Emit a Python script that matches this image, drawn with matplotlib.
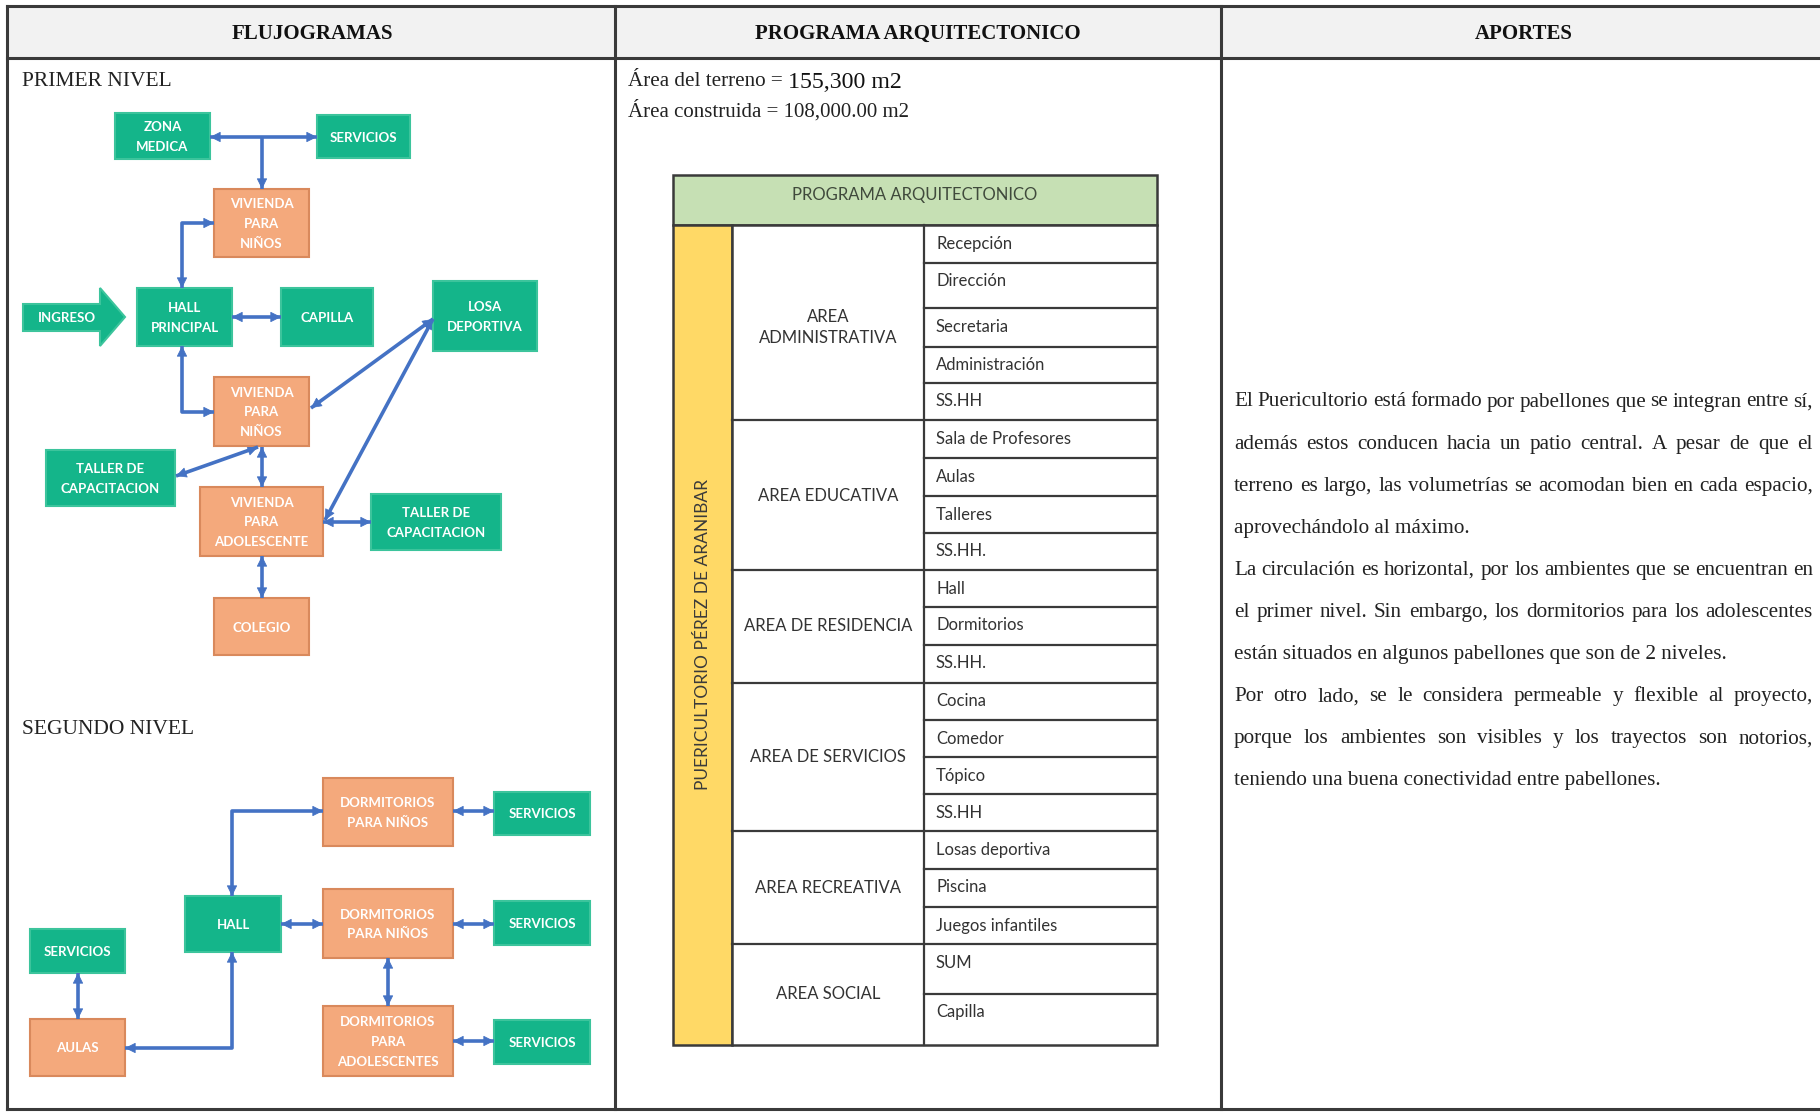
import matplotlib
matplotlib.use("Agg")
import matplotlib.pyplot as plt
from matplotlib.patches import Rectangle, Polygon, FancyArrowPatch
import numpy as np

# ---------------- data ----------------
encabezados = ["FLUJOGRAMAS", "PROGRAMA ARQUITECTONICO", "APORTES"]

nivel1_nombres = ["ZONA\nMEDICA", "SERVICIOS", "VIVIENDA\nPARA\nNIÑOS", "HALL\nPRINCIPAL",
                  "CAPILLA", "LOSA\nDEPORTIVA", "VIVIENDA\nPARA\nNIÑOS", "TALLER DE\nCAPACITACION",
                  "VIVIENDA\nPARA\nADOLESCENTE", "TALLER DE\nCAPACITACION", "COLEGIO"]
nivel1_tipo = ["v", "v", "n", "v", "v", "v", "n", "v", "n", "v", "n"]

nivel2_nombres = ["DORMITORIOS\nPARA NIÑOS", "SERVICIOS", "HALL", "DORMITORIOS\nPARA NIÑOS",
                  "SERVICIOS", "SERVICIOS", "AULAS", "DORMITORIOS\nPARA\nADOLESCENTES", "SERVICIOS"]
nivel2_tipo = ["n", "v", "v", "n", "v", "v", "n", "n", "v"]

areas = ["Área del terreno = ", "155,300 m2", "Área construida = 108,000.00 m2"]

programa_titulo = "PROGRAMA ARQUITECTONICO"
programa_lateral = "PUERICULTORIO PÉREZ DE ARANIBAR"
zonas = ["AREA\nADMINISTRATIVA", "AREA EDUCATIVA", "AREA DE RESIDENCIA",
         "AREA DE SERVICIOS", "AREA RECREATIVA", "AREA SOCIAL"]
ambientes = [["Recepción", "Dirección", "Secretaria", "Administración", "SS.HH"],
             ["Sala de Profesores", "Aulas", "Talleres", "SS.HH."],
             ["Hall", "Dormitorios", "SS.HH."],
             ["Cocina", "Comedor", "Tópico", "SS.HH"],
             ["Losas deportiva", "Piscina", "Juegos infantiles"],
             ["SUM", "Capilla"]]

aportes = [
    ["El Puericultorio está formado por pabellones que se integran entre sí,",
     "además estos conducen hacia un patio central. A pesar de que el",
     "terreno es largo, las volumetrías se acomodan bien en cada espacio,",
     "aprovechándolo al máximo."],
    ["La circulación es horizontal, por los ambientes que se encuentran en",
     "el primer nivel. Sin embargo, los dormitorios para los adolescentes",
     "están situados en algunos pabellones que son de 2 niveles."],
    ["Por otro lado, se le considera permeable y flexible al proyecto,",
     "porque los ambientes son visibles y los trayectos son notorios,",
     "teniendo una buena conectividad entre pabellones."],
]

# ---------------- layout (pixels) ----------------
nivel1_cajas = [(115, 113, 210, 159), (317, 115, 410, 158), (214, 189, 309, 257),
                (137, 288, 232, 346), (281, 288, 373, 346), (433, 281, 537, 351),
                (214, 377, 309, 446), (46, 450, 175, 506), (200, 487, 323, 556),
                (371, 494, 501, 550), (214, 598, 309, 655)]
nivel1_flechas = [
    ([(210, 137), (317, 137)], True, True),
    ([(262, 137), (262, 189)], False, True),
    ([(182, 288), (182, 223), (214, 223)], True, True),
    ([(232, 317), (281, 317)], True, True),
    ([(182, 346), (182, 412), (214, 412)], True, True),
    ([(433, 319), (311, 408)], True, True),
    ([(433, 319), (325, 520)], True, True),
    ([(176, 476), (258, 447)], True, True),
    ([(262, 447), (262, 487)], True, True),
    ([(323, 522), (371, 522)], True, True),
    ([(262, 556), (262, 598)], True, True),
]
nivel2_cajas = [(323, 778, 453, 846), (494, 792, 590, 835), (185, 896, 281, 952),
                (323, 889, 453, 958), (494, 901, 590, 945), (30, 929, 125, 973),
                (30, 1019, 125, 1076), (323, 1006, 453, 1076), (494, 1020, 590, 1064)]
nivel2_flechas = [
    ([(232, 896), (232, 811), (323, 811)], True, True),
    ([(281, 924), (323, 924)], True, True),
    ([(453, 811), (494, 811)], True, True),
    ([(453, 924), (494, 924)], True, True),
    ([(388, 958), (388, 1006)], True, True),
    ([(453, 1041), (494, 1041)], True, True),
    ([(78, 973), (78, 1019)], True, True),
    ([(125, 1048), (232, 1048), (232, 952)], True, True),
]
filas_y = [225, 263, 308, 347, 383, 420, 458, 496, 533, 570, 607, 645, 683, 720,
           757, 794, 831, 869, 907, 944, 994, 1045]

VERDE = "#14b58a"
VERDE_BORDE = "#3cc49c"
NARANJA = "#f4a97c"
NARANJA_BORDE = "#d9895c"
AZUL = "#4472c4"
SERIF = ["Liberation Serif", "DejaVu Serif"]
SANS = ["Lato", "DejaVu Sans"]

fig = plt.figure(figsize=(18.2, 11.12), dpi=100)
ax = fig.add_axes([0, 0, 1, 1])
ax.set_xlim(0, 1820)
ax.set_ylim(1112, 0)
ax.axis("off")

# ---------------- marco de la tabla ----------------
ax.add_patch(Rectangle((7, 6), 1830, 52, facecolor="#f2f2f2", edgecolor="none"))
borde = dict(color="#3a3a3a", lw=2.2)
ax.plot([7, 1820], [6, 6], **borde)
ax.plot([7, 1820], [58, 58], **borde)
ax.plot([7, 1820], [1109, 1109], **borde)
for x in [7, 615, 1221]:
    ax.plot([x, x], [6, 1109], **borde)
for cx, txt in zip([312, 918, 1524], encabezados):
    ax.text(cx, 34, txt, ha="center", va="center", fontsize=15, fontweight="bold",
            family=SERIF, color="#111111")


# ---------------- flujogramas ----------------
def caja(b, texto, tipo):
    x0, y0, x1, y1 = b
    fc, ec = (VERDE, VERDE_BORDE) if tipo == "v" else (NARANJA, NARANJA_BORDE)
    ax.add_patch(Rectangle((x0, y0), x1 - x0, y1 - y0, facecolor=fc, edgecolor=ec, lw=1.5))
    ax.text((x0 + x1) / 2, (y0 + y1) / 2 + 1, texto, ha="center", va="center",
            fontsize=9.5, fontweight="bold", family=SANS, color="white", linespacing=1.75)


def flecha(puntos, ini, fin):
    xs = [p[0] for p in puntos]
    ys = [p[1] for p in puntos]
    ax.plot(xs, ys, color=AZUL, lw=2.6, solid_capstyle="butt")
    heads = []
    if fin:
        heads.append((puntos[-2], puntos[-1]))
    if ini:
        heads.append((puntos[1], puntos[0]))
    for a, b in heads:
        ax.add_patch(FancyArrowPatch(a, b, arrowstyle="-|>", mutation_scale=17,
                                     color=AZUL, lw=0.5, shrinkA=0, shrinkB=0))


ax.text(22, 82, "PRIMER NIVEL", ha="left", va="center", fontsize=15.5, family=SERIF,
        color="#222222")
ax.text(22, 729, "SEGUNDO NIVEL", ha="left", va="center", fontsize=15.5, family=SERIF,
        color="#222222")

# flecha de ingreso
ax.add_patch(Polygon([(23, 304), (100, 304), (100, 288), (125, 317), (100, 346),
                      (100, 331), (23, 331)], closed=True, facecolor=VERDE,
                     edgecolor=VERDE_BORDE, lw=1.5))
ax.text(67, 318, "INGRESO", ha="center", va="center", fontsize=9.5, fontweight="bold",
        family=SANS, color="white")

for pts, a, b in nivel1_flechas + nivel2_flechas:
    flecha(pts, a, b)
for b, t, k in zip(nivel1_cajas, nivel1_nombres, nivel1_tipo):
    caja(b, t, k)
for b, t, k in zip(nivel2_cajas, nivel2_nombres, nivel2_tipo):
    caja(b, t, k)

# ---------------- programa arquitectonico ----------------
t1 = ax.text(628, 82, areas[0], ha="left", va="center", fontsize=15.2, family=SERIF,
             color="#222222")
fig.canvas.draw()
renderer = fig.canvas.get_renderer()
w0 = t1.get_window_extent(renderer).width
ax.text(628 + w0, 82, areas[1], ha="left", va="center", fontsize=17.2, family=SERIF,
        color="#111111")
ax.text(628, 111, areas[2], ha="left", va="center", fontsize=15, family=SERIF,
        color="#222222")

TX0, TX1, TX2, TX3 = 673, 732, 924, 1157
linea = dict(color="#3a3a3a", lw=1.6)
ax.add_patch(Rectangle((TX0, 175), TX3 - TX0, 50, facecolor="#c6e0b4", edgecolor="#3a3a3a",
                       lw=1.8))
ax.text((TX0 + TX3) / 2, 195, programa_titulo, ha="center", va="center", fontsize=12,
        family=SANS, color="#404a3c")
ax.add_patch(Rectangle((TX0, 225), TX1 - TX0, filas_y[-1] - 225, facecolor="#ffd966",
                       edgecolor="#3a3a3a", lw=1.8))
ax.text((TX0 + TX1) / 2, (225 + filas_y[-1]) / 2, programa_lateral, rotation=90,
        ha="center", va="center", fontsize=12.5, family=SANS, color="#3a3a3a")
ax.add_patch(Rectangle((TX1, 225), TX3 - TX1, filas_y[-1] - 225, facecolor="white",
                       edgecolor="#3a3a3a", lw=1.8))
ax.plot([TX2, TX2], [225, filas_y[-1]], **linea)

k = 0
for zona, items in zip(zonas, ambientes):
    n = len(items)
    ytop = filas_y[k]
    # etiqueta de la zona en la fila central
    if n % 2 == 1:
        ylab = (filas_y[k + n // 2] + filas_y[k + n // 2 + 1]) / 2
    else:
        ylab = filas_y[k + n // 2]
    ax.text((TX1 + TX2) / 2, ylab, zona, ha="center", va="center", fontsize=12,
            family=SANS, color="#333333", linespacing=1.35)
    for j, it in enumerate(items):
        a = filas_y[k + j]
        ax.text(TX2 + 12, a + 18.5, it, ha="left", va="center", fontsize=12,
                family=SANS, color="#333333")
        if j > 0:
            ax.plot([TX2, TX3], [a, a], **linea)
    if k > 0:
        ax.plot([TX1, TX3], [ytop, ytop], **linea)
    k += n

# ---------------- aportes (texto justificado) ----------------
PX0, PX1 = 1234, 1813
FS = 15.2


def ancho(w):
    t = ax.text(0, 0, w, fontsize=FS, family=SERIF)
    bb = t.get_window_extent(renderer)
    t.remove()
    return bb.width


y = 402
for parrafo in aportes:
    for i, ln in enumerate(parrafo):
        if i == len(parrafo) - 1:
            ax.text(PX0, y, ln, ha="left", va="center", fontsize=FS, family=SERIF,
                    color="#222222")
        else:
            palabras = ln.split(" ")
            ws = [ancho(p) for p in palabras]
            gap = (PX1 - PX0 - sum(ws)) / (len(palabras) - 1)
            x = PX0
            for p, w in zip(palabras, ws):
                ax.text(x, y, p, ha="left", va="center", fontsize=FS, family=SERIF,
                        color="#222222")
                x += w + gap
        y += 42.1

fig.savefig("out.png", dpi=100)
